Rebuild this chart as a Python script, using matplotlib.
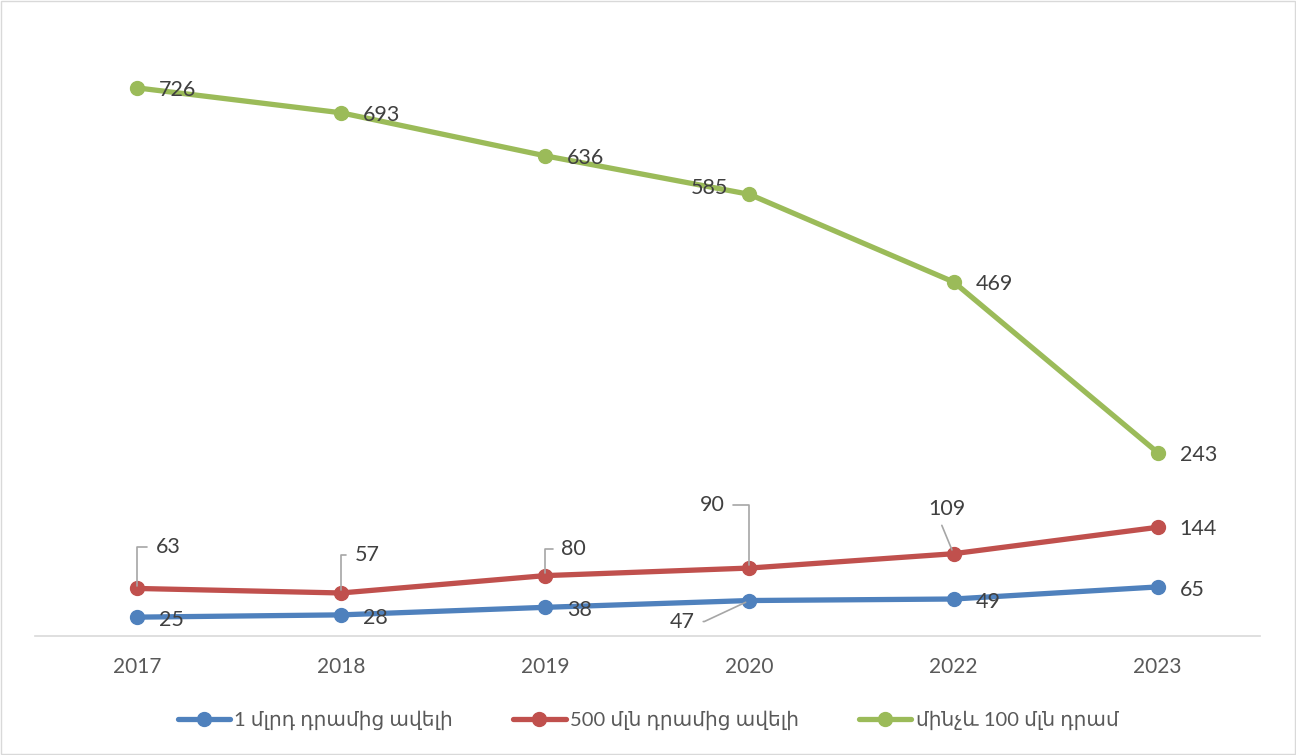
import matplotlib
matplotlib.use('Agg')
import matplotlib.pyplot as plt
from matplotlib.patches import Rectangle

plt.rcParams['font.family'] = ['Lato', 'DejaVu Sans']

# data
years = ['2017', '2018', '2019', '2020', '2022', '2023']
over_1bn = [25, 28, 38, 47, 49, 65]
over_500m = [63, 57, 80, 90, 109, 144]
under_100m = [726, 693, 636, 585, 469, 243]
names = ['1 մլրդ դրամից ավելի', '500 մլն դրամից ավելի', 'մինչև 100 մլն դրամ']

blue = '#4F81BD'
red = '#C0504D'
green = '#9BBB59'
txt = '#404040'
lead = '#A6A6A6'

fig = plt.figure(figsize=(12.96, 7.55), dpi=100)
ax = fig.add_axes([0.027, 0.1576, 0.945, 0.80])
x = list(range(len(years)))

for vals, col, nm in [(over_1bn, blue, names[0]), (over_500m, red, names[1]), (under_100m, green, names[2])]:
    ax.plot(x, vals, color=col, lw=3.8, marker='o', ms=10, label=nm, solid_capstyle='round')

ax.set_xlim(-0.5, len(years) - 0.5)
ax.set_ylim(0, 800)
ax.set_xticks(x)
ax.set_xticklabels(years, fontsize=15, color='#595959')
ax.tick_params(axis='x', length=0, pad=15)
ax.set_yticks([])
for s in ['top', 'left', 'right']:
    ax.spines[s].set_visible(False)
ax.spines['bottom'].set_color('#D9D9D9')
ax.spines['bottom'].set_linewidth(1.2)

fs = 15.5
k = 0.72  # px -> pt


def right_label(i, v, dx=22, dy=-2):
    ax.annotate(str(v), (i, v), xytext=(dx * k, dy * k), textcoords='offset points',
                ha='left', va='center', fontsize=fs, color=txt)


# green series
for i, v in enumerate(under_100m):
    if i == 3:
        ax.annotate(str(v), (i, v), xytext=(-40 * k, 6 * k), textcoords='offset points',
                    ha='center', va='center', fontsize=fs, color=txt)
    else:
        right_label(i, v)

# blue series
for i, v in enumerate(over_1bn):
    if i == 3:
        ax.annotate(str(v), (i, v), xytext=(-67 * k, -21 * k), textcoords='offset points',
                    ha='center', va='center', fontsize=fs, color=txt,
                    arrowprops=dict(arrowstyle='-', color=lead, lw=1.2, shrinkA=4, shrinkB=3,
                                    relpos=(1, 0.5),
                                    connectionstyle='angle,angleA=0,angleB=25,rad=0'))
    else:
        right_label(i, v, dy=-3)

# red series
red_off = {0: (31, 41), 1: (26, 38), 2: (28, 27)}
for i, v in enumerate(over_500m):
    if i in red_off:
        dx, dy = red_off[i]
        ax.annotate(str(v), (i, v), xytext=(dx * k, dy * k), textcoords='offset points',
                    ha='center', va='center', fontsize=fs, color=txt,
                    arrowprops=dict(arrowstyle='-', color=lead, lw=1.2, shrinkA=4, shrinkB=2,
                                    relpos=(0, 0.5),
                                    connectionstyle='angle,angleA=0,angleB=90,rad=0'))
    elif i == 3:
        ax.annotate(str(v), (i, v), xytext=(-37 * k, 63 * k), textcoords='offset points',
                    ha='center', va='center', fontsize=fs, color=txt,
                    arrowprops=dict(arrowstyle='-', color=lead, lw=1.2, shrinkA=4, shrinkB=2,
                                    relpos=(1, 0.5),
                                    connectionstyle='angle,angleA=0,angleB=90,rad=0'))
    elif i == 4:
        ax.annotate(str(v), (i, v), xytext=(-7 * k, 45 * k), textcoords='offset points',
                    ha='center', va='center', fontsize=fs, color=txt,
                    arrowprops=dict(arrowstyle='-', color=lead, lw=1.2, shrinkA=3, shrinkB=3,
                                    relpos=(0.3, 0)))
    else:
        right_label(i, v)

leg = fig.legend(loc='center', bbox_to_anchor=(0.5, 0.046), ncol=3, frameon=False,
                 fontsize=14.5, handlelength=2.6, columnspacing=3.0, handletextpad=0.2)
for t in leg.get_texts():
    t.set_color('#595959')

fig.patches.append(Rectangle((0.001, 0.001), 0.998, 0.998, transform=fig.transFigure,
                             fill=False, edgecolor='#D9D9D9', lw=1))

fig.savefig('out.png', dpi=100)
